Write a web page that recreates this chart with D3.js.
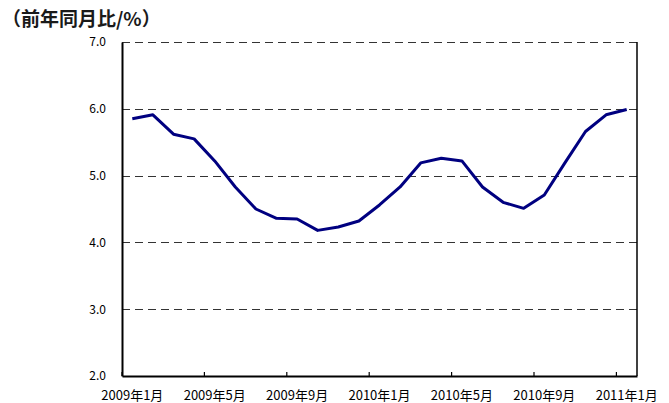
<!DOCTYPE html>
<html>
<head>
<meta charset="utf-8">
<style>
  body { margin: 0; background: #fff; }
  text { font-family: "Noto Sans CJK JP", "DejaVu Sans", sans-serif; }
</style>
</head>
<body>
<div id="container"></div>
<script src="https://d3js.org/d3.v7.min.js"></script>
<script>
var W = 669, H = 403;
var margin = {top: 42, right: 32, bottom: 27, left: 122};

// months 2009/1 .. 2011/1
var months = ["2009-01","2009-02","2009-03","2009-04","2009-05","2009-06","2009-07","2009-08",
  "2009-09","2009-10","2009-11","2009-12","2010-01","2010-02","2010-03","2010-04",
  "2010-05","2010-06","2010-07","2010-08","2010-09","2010-10","2010-11","2010-12","2011-01"];
var values = [5.85, 5.91, 5.62, 5.55, 5.22, 4.83, 4.50, 4.36, 4.35, 4.18, 4.23, 4.32,
  4.56, 4.83, 5.19, 5.26, 5.22, 4.83, 4.60, 4.51, 4.71, 5.19, 5.66, 5.91, 5.99];
var labelMonths = ["2009-01","2009-05","2009-09","2010-01","2010-05","2010-09","2011-01"];
var yTicks = [2, 3, 4, 5, 6, 7];
var gridTicks = [3, 4, 5, 6, 7];

function monthLabel(m) {
  var p = m.split("-");
  return p[0] + "年" + (+p[1]) + "月";
}

var svg = d3.select("#container").append("svg")
  .attr("width", W).attr("height", H);

var x = d3.scaleBand().domain(months)
  .range([margin.left, W - margin.right]);
var y = d3.scaleLinear().domain([2, 7])
  .range([H - margin.bottom, margin.top]);
var bw = x.bandwidth();

// unit label
svg.append("text")
  .attr("x", 2).attr("y", 26)
  .style("font-size", "19px")
  .style("font-weight", "bold")
  .style("fill", "#1a1a1a")
  .text("（前年同月比/%）");

// dashed grid
svg.append("g").selectAll("line").data(gridTicks).enter().append("line")
  .attr("x1", margin.left).attr("x2", W - margin.right)
  .attr("y1", function(d) { return Math.round(y(d)) + 0.5; })
  .attr("y2", function(d) { return Math.round(y(d)) + 0.5; })
  .style("stroke", "#333")
  .style("stroke-width", 1)
  .style("stroke-dasharray", "8,5");

// right border
svg.append("line")
  .attr("x1", W - margin.right).attr("x2", W - margin.right)
  .attr("y1", y(7)).attr("y2", y(2))
  .style("stroke", "#000").style("stroke-width", 1.5);

// y axis
var yAxis = svg.append("g")
  .attr("transform", "translate(" + margin.left + ",0)")
  .call(d3.axisLeft(y).tickValues(yTicks).tickFormat(d3.format(".1f"))
    .tickSize(0).tickPadding(16));
yAxis.select(".domain").style("stroke", "#000").style("stroke-width", 2);
yAxis.selectAll("text")
  .style("font-size", "12px").style("fill", "#000")
  .style("font-family", "\"Noto Sans CJK JP\", sans-serif");

// x axis: ticks at month boundaries, labels at month centres
var xAxis = svg.append("g")
  .attr("transform", "translate(0," + (H - margin.bottom) + ")")
  .call(d3.axisBottom(x).tickValues(labelMonths).tickFormat(monthLabel)
    .tickSizeOuter(0).tickSizeInner(-4));
xAxis.select(".domain").style("stroke", "#000").style("stroke-width", 2);
xAxis.selectAll(".tick line")
  .attr("x1", -bw / 2).attr("x2", -bw / 2)
  .style("stroke", "#000").style("stroke-width", 1.2);
xAxis.selectAll("text")
  .attr("y", 15)
  .style("font-size", "13px").style("fill", "#000")
  .style("font-family", "\"Noto Sans CJK JP\", sans-serif");

// line
var line = d3.line()
  .x(function(d, i) { return x(months[i]) + bw / 2; })
  .y(function(d) { return y(d); });

svg.append("path")
  .datum(values)
  .attr("d", line)
  .style("fill", "none")
  .style("stroke", "#000080")
  .style("stroke-width", 3)
  .style("stroke-linejoin", "round");
</script>
</body>
</html>
